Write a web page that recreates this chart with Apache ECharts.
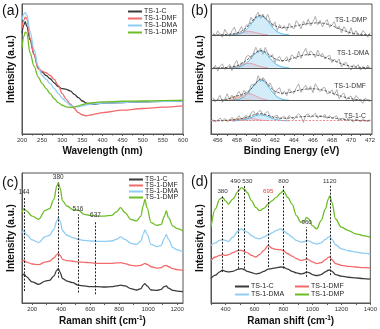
<!DOCTYPE html>
<html><head><meta charset="utf-8">
<script src="https://cdn.jsdelivr.net/npm/echarts@6/dist/echarts.min.js"></script>
<style>html,body{margin:0;padding:0;background:#fff}#c{width:380px;height:329px}</style>
</head><body><div id="c"></div>
<script>
// ---------- shared ----------
const names = ['TS-1-C','TS-1-DMF','TS-1-DMA','TS-1-DMP'];
// ---------- (a) UV-vis ----------
const uvX = [200,205,208,212,220,230,240,250,260,270,280,290,300,310,320,330,340,350,360,370,380,400,450,500,550,600];
const uvC = [77.6,84.0,86.5,82.7,72.5,61.1,50.9,47.6,45.0,42.5,39.4,36.4,34.9,34.4,33.1,30.5,28.0,25.4,23.7,22.9,22.9,23.7,24.2,24.7,25.2,25.4];
const uvDMF = [81.4,87.8,89.8,89.1,73.8,61.1,50.1,48.3,47.1,45.0,42.0,37.4,31.0,26.7,22.9,19.6,16.5,14.8,14.0,14.5,15.3,16.5,18.3,19.6,20.6,21.6];
const uvDMA = [87.8,92.4,93.4,91.6,78.9,64.9,52.2,45.0,42.0,38.7,35.1,31.3,27.5,24.7,22.1,20.9,20.9,21.6,22.4,22.9,23.2,23.7,24.2,24.7,25.2,25.4];
const uvDMP = [66.2,75.1,78.4,77.6,62.3,52.2,44.0,38.9,34.9,31.0,27.2,24.2,22.1,20.9,20.4,20.9,21.6,22.6,23.4,23.9,24.2,24.7,25.2,25.4,25.7,26.0];
// ---------- (b) XPS Ti 2p ----------
const bLabels = ['TS-1-C','TS-1-DMF','TS-1-DMA','TS-1-DMP'];
const bOffsets = [10.2, 26.0, 50.9, 76.3];
const bTicks = [456,458,460,462,464,466,468,470,472];
const bMinorTicks = [456,457,458,459,460,461,462,463,464,465,466,467,468,469,470,471,472];
const bRawX = [455.5,455.75,456,456.25,456.5,456.75,457,457.25,457.5,457.75,458,458.25,458.5,458.75,459,459.25,459.5,459.75,460,460.25,460.5,460.75,461,461.25,461.5,461.75,462,462.25,462.5,462.75,463,463.25,463.5,463.75,464,464.25,464.5,464.75,465,465.25,465.5,465.75,466,466.25,466.5,466.75,467,467.25,467.5,467.75,468,468.25,468.5,468.75,469,469.25,469.5,469.75,470,470.25,470.5,470.75,471,471.25,471.5,471.75,472];
const bRawC = [1,-1,0.5,2.1,-0.4,1.7,-0.7,0.5,2.6,-0.7,2.1,3.9,0.7,2.7,4.1,2.2,5.8,7.4,4.5,6.8,8,4.2,5.8,7.2,3.6,1.6,3.5,4.3,1,2.5,3.4,1,4.1,2.3,1,3.7,5.4,3.6,-1.3,4.3,5.4,2.5,4,5.8,1.9,4.3,3.1,4.9,1.7,4,1.7,3,3.7,0,1.7,2,-0.2,2.7,0.5,-1.1,1.3,0.7,-0.9,1.6,0,-0.5,1];
const bRawDMF = [2,-1.5,1.1,3.7,-1.7,1.1,4.9,0.4,3.9,0,4.2,6.8,2.8,7.5,5.8,5.1,11.6,12.3,12,18.8,14.2,17.5,15,10.9,13.3,9.6,4.5,8.2,9.6,4.4,6.8,3.5,8.8,6.2,5.2,9.6,12.6,6,9.3,11.5,7.7,10.8,5.8,12.7,9.5,6.7,9.3,9.8,4.8,5.5,8,3.9,8.2,1.1,4,5.5,0.5,2.1,3.2,-1.1,3.6,1.5,-0.7,-2.3,1.6,0.1,-1];
const bRawDMA = [-1,2,-2.5,1.1,3.1,-1.3,0.3,2.6,-2.2,2.7,5.6,0.4,4.2,3.4,8.6,9.7,6.8,11.3,15.8,11.6,15.3,10.3,15.7,10.9,8.1,10.3,4,7.3,8.7,4.6,6.1,8.5,4.4,10,8.6,6.7,12.8,7.3,11.7,15,9.2,13.2,11.2,8,13.7,9.3,11.3,6.7,8.5,9.8,4,6.8,4.5,6.8,0.6,3.6,4,0.6,-1.8,2.4,0.6,2.5,-1.7,1.2,-1.4,2.1,0];
const bRawDMP = [1.5,-1,3,0.6,-1.9,4.2,1.3,-1.1,3.1,5.9,0.2,3,6.3,2.1,7.5,7.5,13.5,10,14.5,17.3,12.5,16,12,15.7,11,6.2,10,3.4,7.8,4.6,7,3.1,8.8,6.1,4.5,10.9,8.3,4.6,10.5,7.3,12.1,6.8,10,14.1,7.7,11.1,6,9.6,11.7,5.6,7.5,10.2,4.5,6.7,1.5,6.3,3.6,0.5,5.5,-0.9,3.3,0.6,-0.6,3.3,1.2,-1.9,1.6];
const bEnvX = [455.5,456,456.5,457,457.5,458,458.5,459,459.5,460,460.5,461,461.5,462,462.5,463,463.5,464,464.5,465,465.5,466,466.5,467,467.5,468,468.5,469,469.5,470,470.5,471,471.5,472];
const bEnvC = [0,0,0.1,0.3,0.6,1.1,1.7,2.6,3.8,5,5.5,4.8,3.6,2.5,2,1.9,2.1,2.5,2.9,3.2,3.4,3.5,3.4,3.1,2.7,2.2,1.7,1.2,0.8,0.5,0.3,0.1,0,0];
const bEnvDMF = [0,0.1,0.3,0.9,1.9,3.2,4.3,5.8,8.6,13,16.2,14.5,10.3,7,5.6,5.3,5.8,6.7,7.6,8.3,8.7,8.8,8.5,7.8,6.8,5.5,4.2,3,2,1.2,0.6,0.3,0.1,0];
const bEnvDMA = [0,0,0.1,0.3,0.8,1.6,3.2,5.6,8.8,11.8,13.3,12.2,9.6,7,5.7,5.6,6.4,7.6,8.8,9.7,10.2,10.2,9.7,8.8,7.5,6,4.5,3.1,2,1.2,0.6,0.3,0.1,0];
const bEnvDMP = [0,0,0.1,0.3,0.6,1.2,2.8,5.5,9.5,13.5,15,13,9.5,7,5.8,5.5,5.8,6.5,7.3,8,8.6,9,9.2,9,8.2,7,5.5,4,2.6,1.5,0.8,0.4,0.2,0.1];
const bBlueX = [457.5,458,458.5,459,459.5,460,460.5,461,461.5,462,462.5,463,463.5];
const bBlueC = [0,0.1,0.4,1.2,2.5,3.9,4.5,3.9,2.5,1.2,0.4,0.1,0];
const bBlueDMF = [0.1,0.4,1.5,4.2,8.7,13.4,15.5,13.4,8.7,4.2,1.5,0.4,0.1];
const bBlueDMA = [0.1,0.4,1.3,3.5,7.3,11.3,13,11.3,7.3,3.5,1.3,0.4,0.1];
const bBlueDMP = [0.1,0.4,1.4,3.9,8.1,12.6,14.5,12.6,8.1,3.9,1.4,0.4,0.1];
const bRedX = [457.25,457.75,458.25,458.75,459.25,459.75,460.25,460.75,461.25];
const bRedC = [0.1,0.3,0.9,1.6,2,1.6,0.9,0.3,0.1];
const bRedDMF = [0.2,0.9,2.3,4.1,5,4.1,2.3,0.9,0.2];
const bRedDMA = [0.1,0.6,1.6,2.9,3.5,2.9,1.6,0.6,0.1];
const bRedDMP = [0.1,0.4,1.2,2.1,2.5,2.1,1.2,0.4,0.1];
const bYellowX = [456.6,457.1,457.6,458.1,458.6,459.1,459.6];
const bYellowC = [0.1,0.4,1.1,1.5,1.1,0.4,0.1];
const bYellowDMF = [0.2,0.9,2.5,3.5,2.5,0.9,0.2];
// ---------- (c) Raman (visible) ----------
const cX = [130,144,160,200,245,290,320,350,370,380,392,410,440,480,516,560,600,650,700,750,780,810,840,880,920,950,965,978,992,1020,1060,1090,1110,1125,1140,1170,1200,1240];
const cC = [20.8,22.1,20.3,16.2,14.4,16.9,17.4,20.8,25.1,26.4,23.8,18.7,16.9,15.6,13.8,13.1,12.6,12.6,12.3,12.6,13.1,13.8,13.1,11,10,11,13.6,14.9,13.1,10,9.7,10.5,12.6,13.1,11.5,9.7,9.2,8.7];
const cDMF = [32.3,32.8,31.5,30,29.5,31.5,32.1,34.6,37.2,38.2,36.7,33.6,32.6,32.1,31.5,31.3,31,30.5,30.5,30.5,30.8,31,30.3,29,28.5,29,29.7,30.5,29.7,27.9,26.9,27.2,28.5,29,27.9,26.4,25.6,25.1];
const cDMA = [54.1,55.4,52.8,48.5,46.4,51,52.1,56.7,63.1,65.6,63.1,55.4,52.1,50.3,49,48.2,47.7,47.4,47.4,47.7,49,50.8,49,45.9,45.1,47.7,52.8,56.2,52.8,45.1,43.3,44.4,49.5,52.6,49,42.6,40.8,39.2];
const cDMP = [69.5,72.6,70.8,66.9,64.4,71.3,72.6,79.7,90,92.6,88.7,78.5,74.6,71.8,71.5,68.2,67.4,66.9,66.9,67.4,70,73.3,69.5,64.4,63.1,66.9,74.6,79.7,73.3,61.8,59.7,60.5,66.4,70.8,65.6,59.2,57.2,55.4];
const cTicks = [200,400,600,800,1000,1200];
const cMinorTicks = [200,300,400,500,600,700,800,900,1000,1100,1200];
const cPeaks = [144,380,516,637];
const cPeakTop = [80.8,92.6,68.2,63];
const cPeakBottom = [9.2,19.5,8,6.7];
// ---------- (d) Raman (UV) ----------
const dX = [300,330,360,380,400,420,450,490,510,530,550,580,610,635,665,695,720,750,780,800,830,860,890,920,945,960,975,1000,1030,1060,1090,1110,1120,1135,1160,1200,1250,1300,1350,1400];
const dC = [18.8,21.4,23.9,25.2,24.4,23.9,24.4,26,26.5,25.7,24.4,23.4,22.4,22.9,24.4,26,26.5,27,27.7,27.5,26,24.4,23.2,22.4,22.9,23.9,23.4,21.9,21.1,21.9,23.9,25.2,25.4,24.4,21.9,20.6,19.8,19.3,18.8,18.3];
const dDMF = [32.8,35.4,36.6,37.2,36.6,37.2,38.7,40.5,40.5,39.7,38.7,36.6,35.4,37.2,40.5,44.3,42.2,41.2,41,40.2,37.9,36.1,34.1,32.8,33.3,34.1,33.1,31.6,30.3,31,33.3,35.1,35.4,33.3,30.3,29,28.2,27.7,27.2,27];
const dDMA = [44.3,46.3,48.1,48.9,48.1,47.3,50.6,55.7,57,55.7,54.5,51.9,49.9,49.4,50.6,52.4,53.9,55.7,57,55.7,53.2,50.6,48.1,46.8,47.3,48.1,47.8,46.3,45.3,46.3,48.9,50.6,51.1,48.9,44.8,41.7,40.2,39.2,38.4,37.7];
const dDMP = [58.3,72.3,79.9,81.2,78.6,76.1,79.9,86.3,88.8,87.5,85,78.6,73.5,71,72.8,76.1,78.6,81.2,84.5,86.3,81.2,76.1,67.2,62.1,63.4,65.9,64.6,59.5,57,63.4,72.3,79.9,82.4,77.4,64.6,58.3,55.7,53.2,51.9,50.6];
const dTicks = [400,600,800,1000,1200,1400];
const dMinorTicks = [300,400,500,600,700,800,900,1000,1100,1200,1300,1400];
const dPeaks = [380,490,530,695,800,960,1120];
const dPeakTop = [82.4,90.1,90.1,82.4,90.1,58.3,90.1];
const dPeakBottom = [23.9,26.5,26.5,27.7,26.5,20.1,21.4];
const dHighlightPeak = 695;

// ---------- styling ----------
const FONT = '"Liberation Sans", Arial, sans-serif';
const COLORS = ['#3b3b3b','#f26a6a','#8fcdf3','#6dbd27'];
const AX = '#555';
const LABEL_NUDGE = {490:[-3,0], 530:[3,0], 380:[0,0]};
const chart = echarts.init(document.getElementById('c'), null, {renderer:'canvas'});

const gridBoxes = [[22,4],[211,4],[22,173],[211,173]];
const grid = gridBoxes.map(g => ({left:g[0], top:g[1], width:161, height:130, show:true, borderColor:AX, borderWidth:1}));

const nameStyle = {fontFamily:FONT, fontSize:10, fontWeight:'bold', color:'#111'};
const plain = v => String(v);
function tickLabel(custom){ return {fontSize:6, color:'#333', margin:3, fontFamily:FONT, formatter:plain, customValues:custom}; }
function xAx(gi, o){
  return Object.assign({type:'value', gridIndex:gi, nameLocation:'middle', nameGap:12,
    nameTextStyle:nameStyle,
    axisLine:{onZero:false, lineStyle:{color:AX}},
    axisTick:{length:2, lineStyle:{color:AX}},
    axisLabel:{fontSize:6, color:'#333', margin:3, fontFamily:FONT, formatter:plain},
    splitLine:{show:false}}, o);
}
function yAx(gi){
  return {type:'value', gridIndex:gi, min:0, max:100, name:'Intensity (a.u.)', nameLocation:'middle', nameGap:6, nameRotate:90,
    nameTextStyle:nameStyle, axisLine:{show:true, onZero:false, lineStyle:{color:AX}},
    axisTick:{show:false}, axisLabel:{show:false}, splitLine:{show:false}};
}
const ramanName = {name:'Raman shift (cm{s|-1})', nameGap:12,
  nameTextStyle:Object.assign({}, nameStyle, {rich:{s:{fontFamily:FONT, fontSize:6.5, fontWeight:'bold', color:'#111', verticalAlign:'top', padding:[0,0,6,0]}}})};

const xAxis = [
  xAx(0, {min:200, max:600, interval:50, name:'Wavelength (nm)', minorTick:{show:true, splitNumber:2, length:1.5, lineStyle:{color:AX}}}),
  xAx(1, {min:455.3, max:472.2, name:'Binding Energy (eV)',
    axisLabel:tickLabel(bTicks), axisTick:{length:2, lineStyle:{color:AX}, customValues:bMinorTicks}}),
  xAx(2, Object.assign({min:130, max:1240,
    axisLabel:tickLabel(cTicks), axisTick:{length:2, lineStyle:{color:AX}, customValues:cMinorTicks}}, ramanName)),
  xAx(3, Object.assign({min:300, max:1400,
    axisLabel:tickLabel(dTicks), axisTick:{length:2, lineStyle:{color:AX}, customValues:dMinorTicks}}, ramanName))
];
const yAxis = [yAx(0), yAx(1), yAx(2), yAx(3)];

function pairs(xs, ys, off){ off = off || 0; return xs.map((x,i)=>[x, ys[i] + off]); }
function line(name, gi, xs, ys, color, extra){
  return Object.assign({type:'line', name, xAxisIndex:gi, yAxisIndex:gi, data:pairs(xs, ys),
    showSymbol:false, symbol:'none', smooth:0.35, smoothMonotone:'x', silent:true, animation:false,
    lineStyle:{color, width:1.3}, itemStyle:{color}}, extra || {});
}
const series = [];
// (a)
[uvC, uvDMF, uvDMA, uvDMP].forEach((ys,i)=>series.push(line(names[i], 0, uvX, ys, COLORS[i])));
// (b)
const bRaw = [bRawC, bRawDMF, bRawDMA, bRawDMP];
const bEnv = [bEnvC, bEnvDMF, bEnvDMA, bEnvDMP];
const bBlue = [bBlueC, bBlueDMF, bBlueDMA, bBlueDMP];
const bRed = [bRedC, bRedDMF, bRedDMA, bRedDMP];
const bYellow = [bYellowC, bYellowDMF, null, null];
bOffsets.forEach((off, i) => {
  if (bYellow[i]) series.push({type:'line', name:'y'+i, xAxisIndex:1, yAxisIndex:1, data:pairs(bYellowX, bYellow[i], off),
    symbol:'none', smooth:0.4, silent:true, animation:false, lineStyle:{color:'#f2c27c', width:0.8},
    areaStyle:{color:'rgba(250,222,175,0.85)', origin:off}, z:2});
  series.push({type:'line', name:'r'+i, xAxisIndex:1, yAxisIndex:1, data:pairs(bRedX, bRed[i], off),
    symbol:'none', smooth:0.4, silent:true, animation:false, lineStyle:{color:'#ee909a', width:0.8},
    areaStyle:{color:'rgba(246,188,197,0.75)', origin:off}, z:3});
  series.push({type:'line', name:'bl'+i, xAxisIndex:1, yAxisIndex:1, data:pairs(bBlueX, bBlue[i], off),
    symbol:'none', smooth:0.4, silent:true, animation:false, lineStyle:{color:'#45b5e4', width:0.9},
    areaStyle:{color:'rgba(165,216,242,0.7)', origin:off}, z:3});
  series.push({type:'line', name:'raw'+i, xAxisIndex:1, yAxisIndex:1, data:pairs(bRawX, bRaw[i], off),
    symbol:'none', smooth:false, silent:true, animation:false, lineStyle:{color:'#a5a5a5', width:0.9}, z:4,
    markLine:{symbol:'none', silent:true, animation:false, label:{show:false},
      lineStyle: i===0 ? {color:'#e98892', width:1, type:[2,1.5]} : {color:'#5a5a5a', width:1.1, type:'solid'},
      data:[{yAxis:off}]}});
  series.push({type:'line', name:'env'+i, xAxisIndex:1, yAxisIndex:1, data:pairs(bEnvX, bEnv[i], off),
    symbol:'none', smooth:0.35, silent:true, animation:false, lineStyle:{color:'#4a4a4a', width:0.9, type:[2.5,1.5]}, z:5});
});
// (c)/(d) peak marker lines
function peakLines(peaks, tops, bottoms, highlight, fs){
  return {symbol:'none', silent:true, animation:false,
    lineStyle:{type:[2,1.5], color:'#222', width:1},
    label:{show:true, position:'end', distance:2, fontSize:fs, fontFamily:FONT, color:'#333'},
    data: peaks.map((p,k)=>{
      const col = p===highlight ? '#e0433b' : '#333';
      const nudge = LABEL_NUDGE[p] || [0,0];
      return [{coord:[p, bottoms[k]], label:{color:col, formatter:String(p), offset:nudge}}, {coord:[p, tops[k]]}];
    })};
}
[cC, cDMF, cDMA, cDMP].forEach((ys,i)=>series.push(line(names[i], 2, cX, ys, COLORS[i])));
series[series.length-4].markLine = peakLines(cPeaks, cPeakTop, cPeakBottom, null, 6.5);
[dC, dDMF, dDMA, dDMP].forEach((ys,i)=>series.push(line(names[i], 3, dX, ys, COLORS[i])));
series[series.length-4].markLine = peakLines(dPeaks, dPeakTop, dPeakBottom, dHighlightPeak, 6.2);

const legendBase = {orient:'vertical', itemWidth:14, itemHeight:2, itemGap:0, icon:'rect', padding:0,
  selectedMode:false, textStyle:{fontSize:7, fontFamily:FONT, color:'#222', lineHeight:7, padding:[0,0,0,-3]}};
const legend = [
  Object.assign({}, legendBase, {left:128, top:8, data:names}),
  Object.assign({}, legendBase, {left:129, top:176, data:names, itemGap:-1}),
  Object.assign({}, legendBase, {left:235, top:283, data:[names[0]]}),
  Object.assign({}, legendBase, {left:295, top:283, data:[names[1]]}),
  Object.assign({}, legendBase, {left:235, top:291, data:[names[2]]}),
  Object.assign({}, legendBase, {left:295, top:291, data:[names[3]]})
];

const panelText = (t, x, y) => ({type:'text', left:x, top:y, style:{text:t, font:'14px '+FONT, fill:'#111'}});
const bText = (t, x, y) => ({type:'text', x, y, style:{text:t, font:'6.8px '+FONT, fill:'#333', textAlign:'right', textVerticalAlign:'middle'}});
const graphic = [
  panelText('(a)', 2, 4), panelText('(b)', 191, 4), panelText('(c)', 2, 176), panelText('(d)', 191, 175),
  bText(bLabels[3], 367, 20), bText(bLabels[2], 369, 53), bText(bLabels[1], 366, 86), bText(bLabels[0], 366, 116)
];

chart.setOption({animation:false, backgroundColor:'#fff', grid, xAxis, yAxis, series, legend, graphic});
</script></body></html>
